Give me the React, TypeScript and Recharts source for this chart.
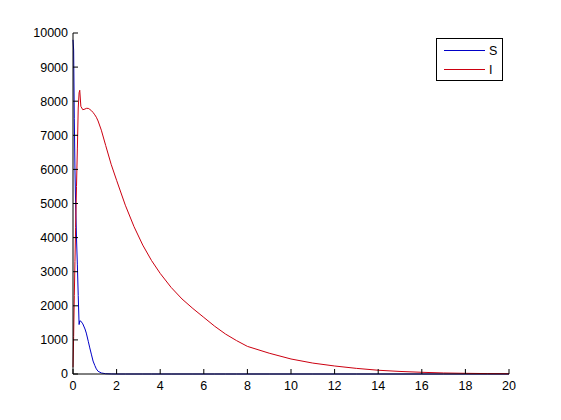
import { LineChart, Line, XAxis, YAxis } from "recharts";

// time (x axis)
const timePoints = [
  0, 0.03, 0.06, 0.09, 0.12, 0.16, 0.2, 0.24, 0.28, 0.31, 0.36, 0.45, 0.55, 0.61,
  0.7, 0.77, 0.85, 0.92, 1.0, 1.07, 1.15, 1.3, 1.5, 1.75, 2, 2.4, 2.8, 3.2, 3.6, 4,
  4.5, 5, 5.5, 6, 6.5, 7, 7.5, 8, 9, 10, 11, 12, 13, 14, 15, 16, 17, 18, 19, 20,
];

// susceptible
const susceptible = [
  9800, 9500, 7500, 6000, 5000, 4000, 3200, 2300, 1450, 1560, 1550, 1470, 1320, 1200,
  960, 765, 560, 380, 250, 150, 80, 30, 8, 2, 0, 0, 0, 0, 0, 0,
  0, 0, 0, 0, 0, 0, 0, 0, 0, 0, 0, 0, 0, 0, 0, 0, 0, 0, 0, 0,
];

// infected
const infected = [
  200, 1100, 2300, 3300, 4300, 5500, 6600, 7800, 8250, 8320, 7850, 7750, 7770, 7790,
  7790, 7760, 7720, 7670, 7600, 7530, 7420, 7150, 6700, 6150, 5680, 4950, 4320, 3780, 3330, 2950,
  2540, 2200, 1920, 1660, 1400, 1170, 980, 810, 610, 440, 320, 235, 165, 110, 75, 50, 30, 20, 12, 8,
];

const xTicks = [0, 2, 4, 6, 8, 10, 12, 14, 16, 18, 20];
const yTicks = [0, 1000, 2000, 3000, 4000, 5000, 6000, 7000, 8000, 9000, 10000];

const seriesNames = ["S", "I"];
const seriesColors = ["#0000c8", "#cc0010"];

const data = timePoints.map((t, i) => ({ t, S: susceptible[i], I: infected[i] }));

const font = "'Liberation Sans', Arial, Helvetica, sans-serif";

// MATLAB-style legend box in the top right corner
function LegendBox() {
  return (
    <svg
      width={67}
      height={43}
      style={{ position: "absolute", left: 436, top: 38 }}
    >
      <rect x={0.5} y={0.5} width={66} height={42} fill="#fff" stroke="#000" />
      {seriesNames.map((name, i) => (
        <g key={name}>
          <line
            x1={8}
            x2={49}
            y1={12.5 + i * 19}
            y2={12.5 + i * 19}
            stroke={seriesColors[i]}
          />
          <text
            x={53}
            y={12.5 + i * 19}
            dy="0.36em"
            fontFamily={font}
            fontSize={12.5}
            fill="#000"
          >
            {name}
          </text>
        </g>
      ))}
    </svg>
  );
}

export default function App() {
  return (
    <div style={{ position: "absolute", left: 0, top: 0, width: 561, height: 420, background: "#fff" }}>
      <LineChart
        width={561}
        height={420}
        data={data}
        margin={{ top: 33, right: 52, bottom: 16, left: 13 }}
      >
        <XAxis
          dataKey="t"
          type="number"
          domain={[0, 20]}
          ticks={xTicks}
          interval={0}
          height={30}
          stroke="#000"
          tickSize={-5}
          tickMargin={12}
          tick={{ fill: "#000", fontSize: 12.5, fontFamily: font }}
        />
        <YAxis
          type="number"
          domain={[0, 10000]}
          ticks={yTicks}
          interval={0}
          width={60}
          stroke="#000"
          tickSize={-5}
          tickMargin={10}
          tick={{ fill: "#000", fontSize: 12.5, fontFamily: font }}
        />
        <Line
          dataKey="S"
          name="S"
          type="linear"
          stroke={seriesColors[0]}
          strokeWidth={1}
          dot={false}
          isAnimationActive={false}
        />
        <Line
          dataKey="I"
          name="I"
          type="linear"
          stroke={seriesColors[1]}
          strokeWidth={1}
          dot={false}
          isAnimationActive={false}
        />
      </LineChart>
      <LegendBox />
    </div>
  );
}
